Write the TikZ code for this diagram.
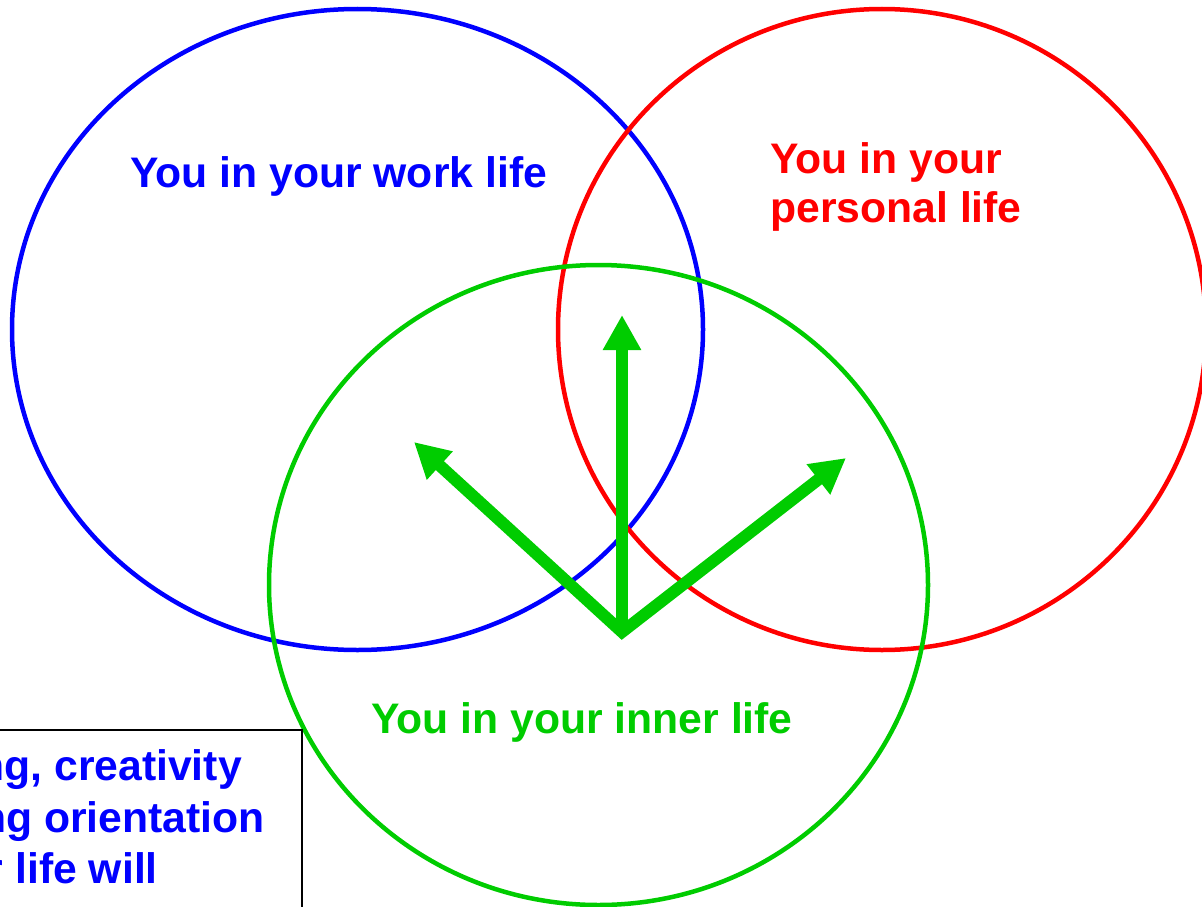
\documentclass[tikz,border=0pt]{standalone}
\usepackage{fontspec}
\setmainfont{Liberation Sans}
\usetikzlibrary{arrows.meta}
\definecolor{cblue}{RGB}{0,0,255}
\definecolor{cred}{RGB}{255,0,0}
\definecolor{cgreen}{RGB}{0,204,0}
\tikzset{
  ring/.style={line width=4.5pt},
  lbl/.style={font=\fontsize{42.7}{50}\selectfont\bfseries, inner sep=0pt},
  garrow/.style={cgreen, line width=12pt, line join=miter, -{Triangle[length=35pt,width=36pt]}},
}
\begin{document}
\begin{tikzpicture}[x=1pt,y=-1pt]
\useasboundingbox (0,0) rectangle (1202,907);
\clip (0,0) rectangle (1202,907);
% ellipses
\draw[ring, cblue] (357.5,329.5) ellipse [x radius=345.5, y radius=320.5];
\draw[ring, cred] (882,329.5) ellipse [x radius=324, y radius=320.5];
\draw[ring, cgreen] (598.5,585) ellipse [x radius=329.5, y radius=320];
% arrows
\coordinate (o) at (622,632);
\coordinate (up) at (622,315);
\coordinate (ul) at (414,442);
\coordinate (ur) at (846,458);
\draw[cgreen, line width=12pt, line join=miter, {Triangle[length=35pt,width=36pt]}-{Triangle[length=35pt,width=36pt]}] (ul) -- (o) -- (ur);
\draw[garrow] (o) -- (up);
% labels
\node[lbl, cblue, anchor=base west] (work) at (130,187) {You in your work life};
\node[lbl, cred, anchor=base west] (pers1) at (770,173) {You in your};
\node[lbl, cred, anchor=base west] (pers2) at (770,222) {personal life};
\node[lbl, cgreen, anchor=base west] (inner) at (371,733) {You in your inner life};
% box
\draw[line width=2pt, fill=white] (-10,730) rectangle (302,930);
\node[lbl, cblue, anchor=base east] (b1) at (242,780) {ng, creativity};
\node[lbl, cblue, anchor=base east] (b2) at (265,832) {ng orientation};
\node[lbl, cblue, anchor=base east] (b3) at (158,883) {r life will};
\end{tikzpicture}
\end{document}
